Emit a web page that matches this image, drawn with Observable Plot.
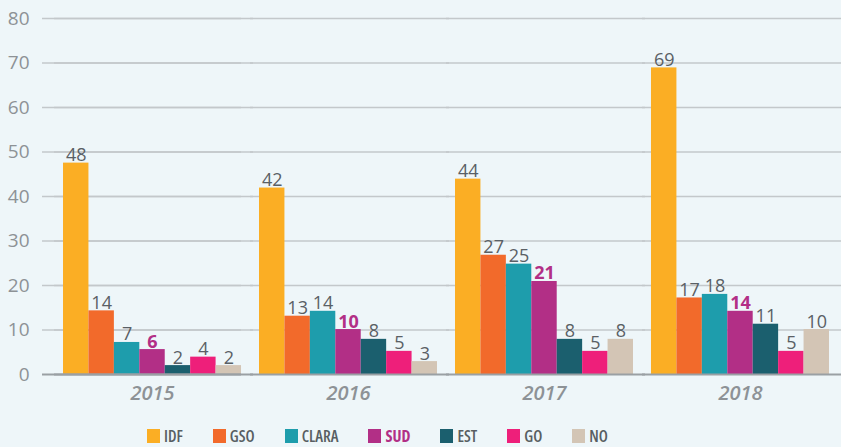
<!DOCTYPE html>
<html>
<head>
<meta charset="utf-8">
<script src="https://cdn.jsdelivr.net/npm/d3@7"></script>
<script src="https://cdn.jsdelivr.net/npm/@observablehq/plot@0.6"></script>
<style>
  html, body { margin: 0; padding: 0; background: #eef6f9; }
  #wrap { width: 841px; height: 447px; position: relative; overflow: hidden; font-family: "Open Sans", Roboto, sans-serif; }
  #chart svg { display: block; }
  #legend { display: flex; align-items: center; gap: 30px; padding-left: 147px; height: 24px; margin-top: 9px; }
  .item { display: flex; align-items: center; gap: 4px; font-size: 16px; font-weight: 600; color: #585e62; font-family: "Liberation Sans Narrow", "Open Sans", sans-serif; font-stretch: condensed; }
  .sw { width: 13px; height: 14px; display: inline-block; }
</style>
</head>
<body>
<div id="wrap"><div id="chart"></div><div id="legend"></div></div>
<script>
const years = ["2015", "2016", "2017", "2018"];
const regions = ["IDF", "GSO", "CLARA", "SUD", "EST", "GO", "NO"];
const regionColors = ["#fbae24", "#f26a2b", "#1e9dac", "#b22f86", "#1b5f6e", "#ee1f7a", "#d3c5b5"];
const values2015 = [47.5, 14.3, 7.2, 5.6, 2.0, 3.9, 2.0];
const values2016 = [41.9, 13.1, 14.2, 10.1, 7.9, 5.2, 2.9];
const values2017 = [43.9, 26.8, 24.8, 20.9, 7.9, 5.2, 7.9];
const values2018 = [68.9, 17.2, 18.0, 14.2, 11.3, 5.2, 10.1];
const yTicks = [0, 10, 20, 30, 40, 50, 60, 70, 80];
const highlight = "SUD";

const series = [values2015, values2016, values2017, values2018];
const data = years.flatMap((year, i) =>
  regions.map((region, j) => ({year, region, value: series[i][j], label: String(Math.round(series[i][j]))}))
);
const grid = years.flatMap(year => yTicks.filter(t => t > 0).map(t => ({year, t})));
const base = years.map(year => ({year, t: 0}));

const purple = "#b22f86";
const labelGray = "#5a6065";
const axisGray = "#8d9296";

const chart = Plot.plot({
  width: 841,
  height: 415,
  marginLeft: 54,
  marginRight: 3,
  marginTop: 18,
  marginBottom: 41,
  style: {background: "transparent", fontFamily: "'Open Sans', Roboto, sans-serif"},
  y: {domain: [0, 80]},
  x: {domain: regions, padding: 0, round: false, axis: null},
  fx: {domain: years, paddingInner: 0.0918, paddingOuter: 0.046, round: false},
  color: {domain: regions, range: regionColors},
  marks: [
    Plot.ruleY(grid, {fx: "year", y: "t", stroke: "#c3c8cb", strokeWidth: 1.5, insetLeft: -9, insetRight: -12}),
    Plot.ruleY(grid.filter(d => d.year === years[0]), {fx: "year", y: "t", stroke: "#c3c8cb", strokeWidth: 1.5, insetLeft: -21}),
    Plot.barY(data, {fx: "year", x: "region", y: "value", fill: "region"}),
    Plot.ruleY(base, {fx: "year", y: "t", stroke: "#9aa0a4", strokeWidth: 2, insetLeft: -9, insetRight: -12}),
    Plot.ruleY(base.filter(d => d.year === years[0]), {fx: "year", y: "t", stroke: "#9aa0a4", strokeWidth: 2, insetLeft: -21}),
    Plot.text(data.filter(d => d.region !== highlight), {fx: "year", x: "region", y: "value", text: "label", lineAnchor: "bottom", dy: -2, fontSize: 18, fill: labelGray}),
    Plot.text(data.filter(d => d.region === highlight), {fx: "year", x: "region", y: "value", text: "label", lineAnchor: "bottom", dy: -2, fontSize: 18, fontWeight: "bold", fill: purple}),
    Plot.axisY({ticks: yTicks, tickSize: 0, tickPadding: 34, fontSize: 19, fill: axisGray, label: null}),
    Plot.axisFx({anchor: "bottom", tickSize: 0, tickPadding: 11, fontSize: 20, fontStyle: "italic", fontWeight: 600, fill: axisGray, label: null})
  ]
});
document.getElementById("chart").appendChild(chart);

const legend = document.getElementById("legend");
regions.forEach((r, i) => {
  const item = document.createElement("div");
  item.className = "item";
  const sw = document.createElement("span");
  sw.className = "sw";
  sw.style.background = regionColors[i];
  const t = document.createElement("span");
  t.textContent = r;
  if (r === highlight) { t.style.color = purple; t.style.fontWeight = "bold"; }
  item.appendChild(sw);
  item.appendChild(t);
  legend.appendChild(item);
});
</script>
</body>
</html>
